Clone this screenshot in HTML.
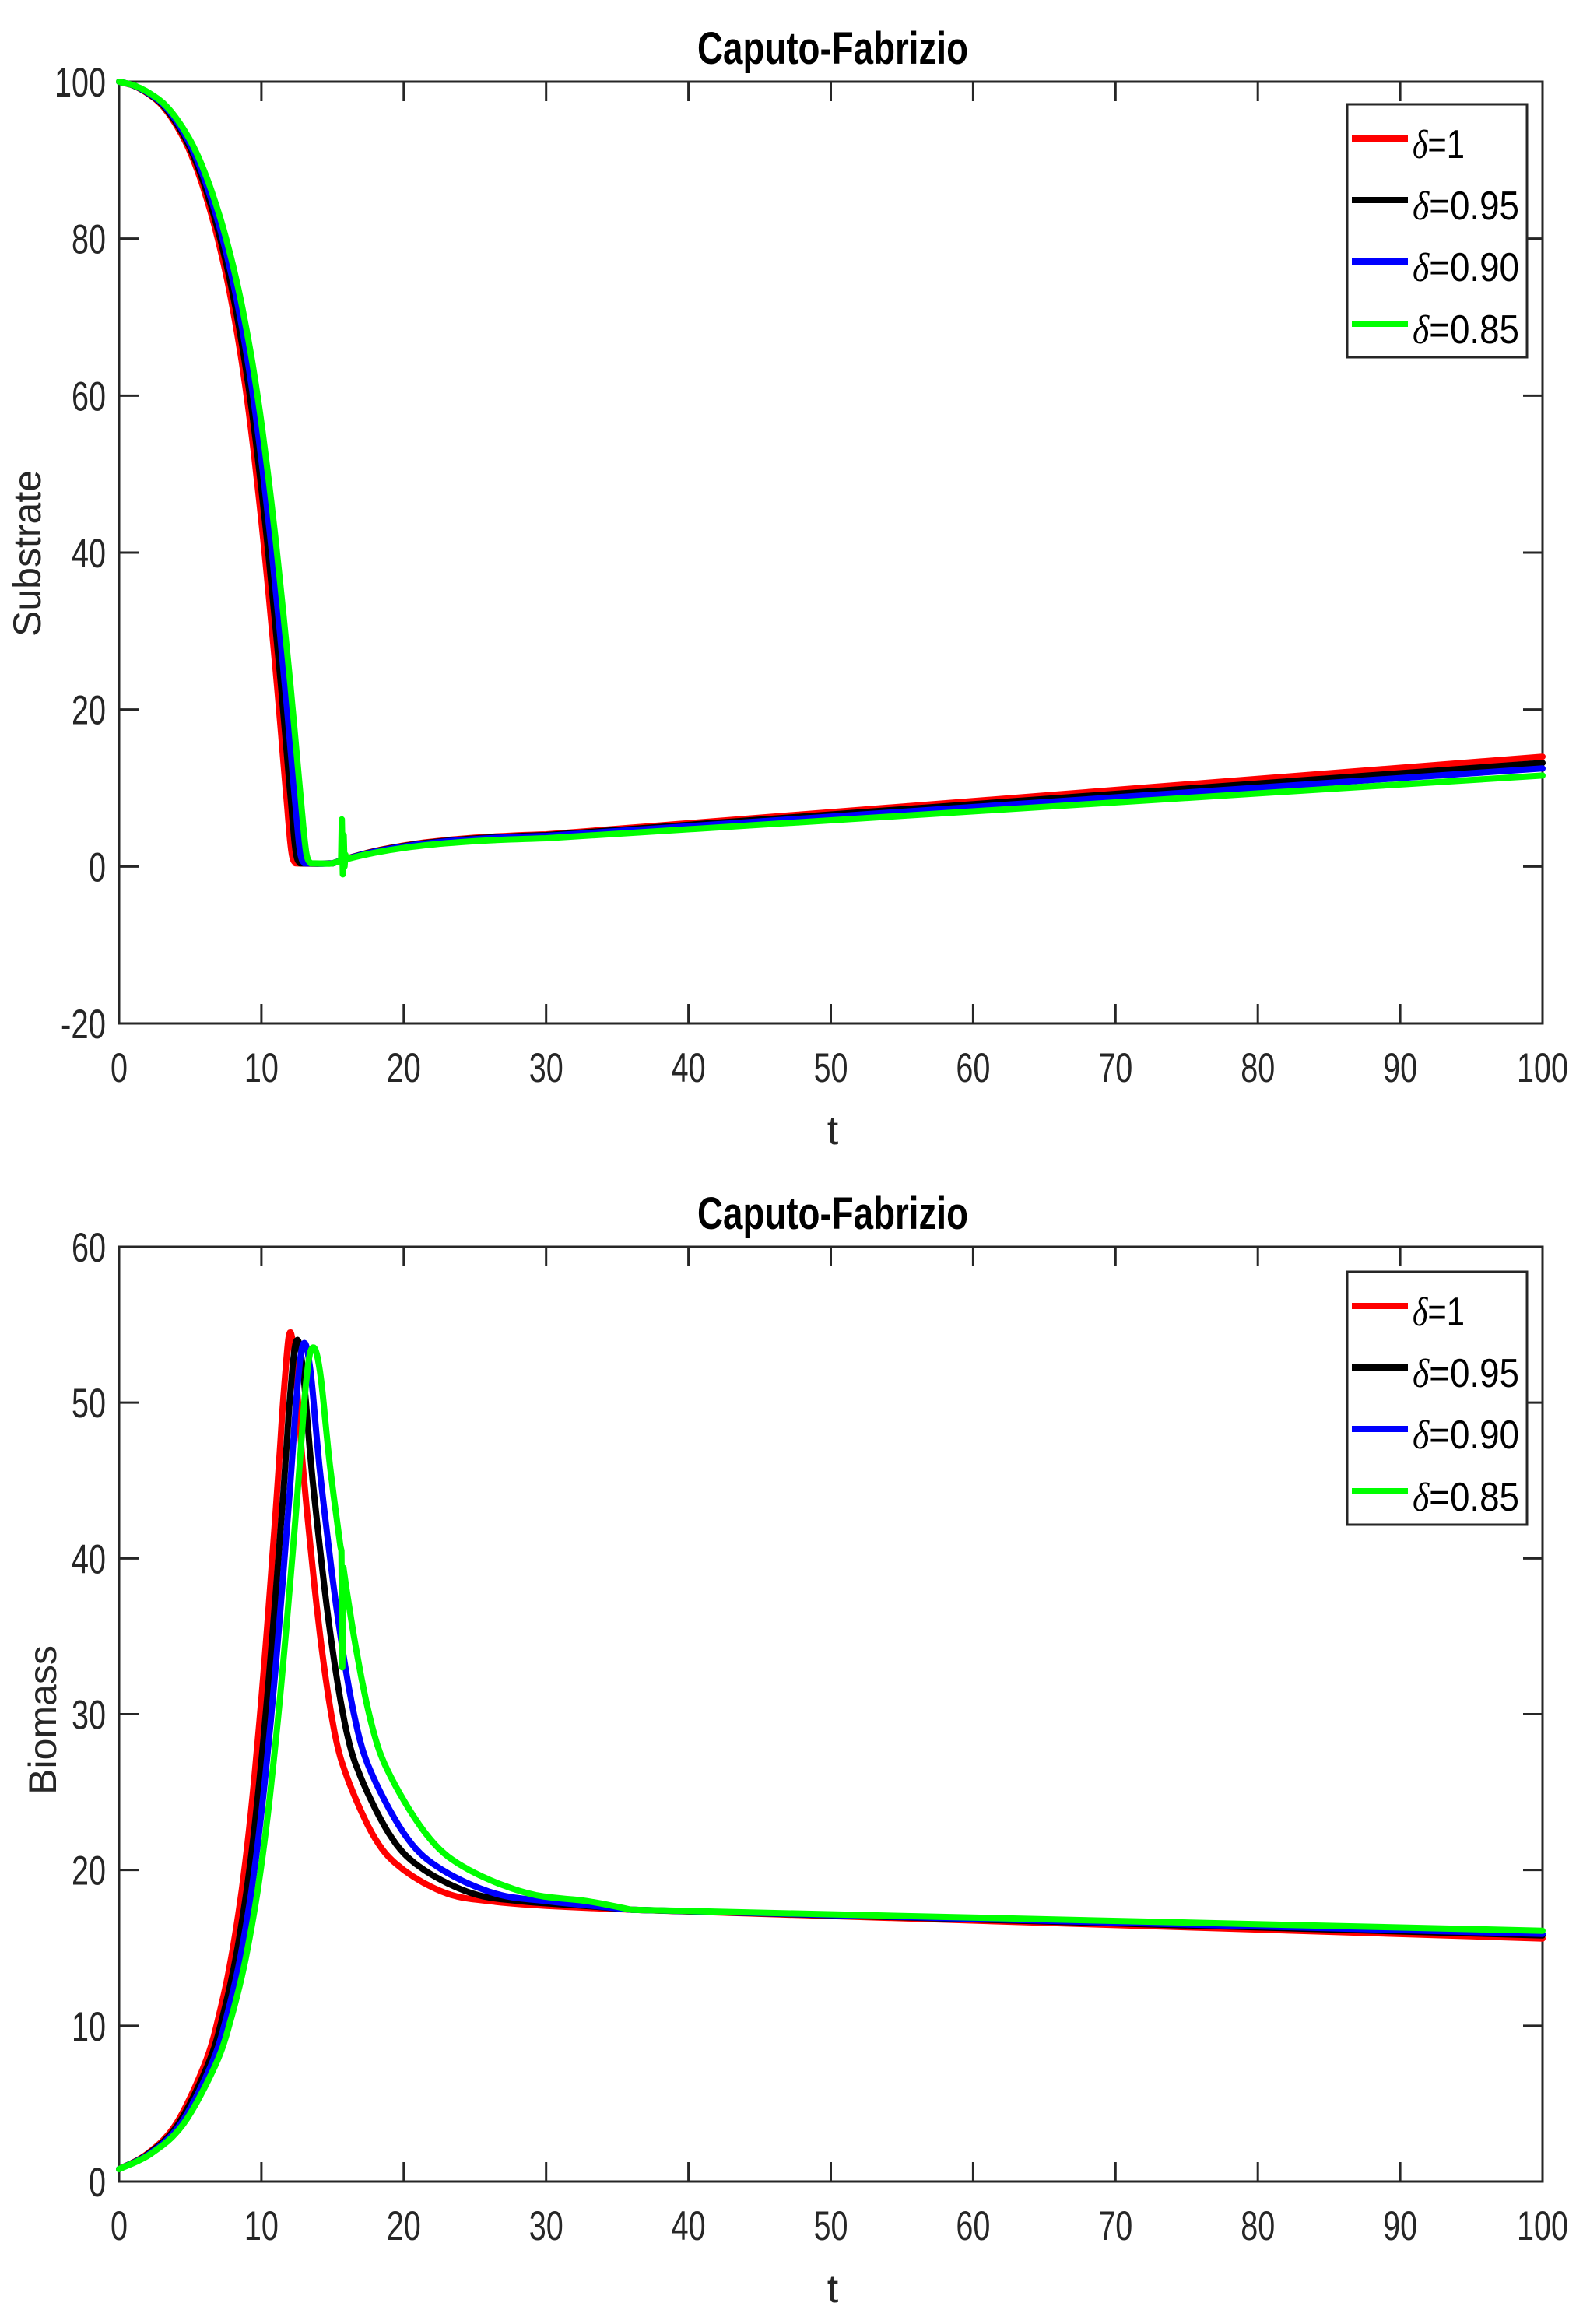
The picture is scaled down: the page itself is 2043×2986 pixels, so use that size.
<!DOCTYPE html>
<html><head><meta charset="utf-8"><style>html,body{margin:0;padding:0;background:#fff}svg{display:block}</style></head>
<body>
<svg id="s" width="2043" height="2986" xmlns="http://www.w3.org/2000/svg" font-family="Liberation Sans, sans-serif"></svg>
<script>
const NS="http://www.w3.org/2000/svg";const S=document.getElementById('s');
function el(t,a,p){const e=document.createElementNS(NS,t);for(const k in a)e.setAttribute(k,a[k]);(p||S).appendChild(e);return e;}
function txt(x,y,s,o){o=o||{};const e=el('text',Object.assign({x:x,y:y,'font-size':o.fs||53,fill:'#262626','text-anchor':o.anchor||'middle'},o.attr||{}));if(o.len){e.setAttribute('textLength',o.len);e.setAttribute('lengthAdjust','spacingAndGlyphs');}e.textContent=s;return e;}
const L=153,R=1982;const X=t=>L+(R-L)*t/100;
function axes(top,bot,ymin,ymax,step,title,ylab,ylx,yll){
  el('rect',{x:L,y:top,width:R-L,height:bot-top,fill:'none',stroke:'#262626','stroke-width':3});
  for(let t=10;t<100;t+=10){const x=X(t);el('line',{x1:x,y1:bot,x2:x,y2:bot-25,stroke:'#262626','stroke-width':3});el('line',{x1:x,y1:top,x2:x,y2:top+25,stroke:'#262626','stroke-width':3});}
  for(let t=0;t<=100;t+=10){const s=''+t;txt(X(t),bot+75,s,{len:s.length*22});}
  const Y=v=>bot-(v-ymin)*(bot-top)/(ymax-ymin);
  for(let v=ymin;v<=ymax;v+=step){const y=Y(v);if(v>ymin&&v<ymax){el('line',{x1:L,y1:y,x2:L+25,y2:y,stroke:'#262626','stroke-width':3});el('line',{x1:R,y1:y,x2:R-25,y2:y,stroke:'#262626','stroke-width':3});}
    const s=''+v;const len=s.replace('-','').length*22+(s[0]=='-'?14:0);txt(136,y+19,s,{anchor:'end',len:len});}
  txt(1070,top-23,title,{fs:58,len:348,attr:{'font-weight':'bold',fill:'#000'}});
  txt(1070,bot+155,'t',{fs:52,attr:{fill:'#262626'}});
  const g=el('text',{x:0,y:0,'font-size':50,fill:'#262626','text-anchor':'middle',transform:`translate(${ylx},${yll}) rotate(-90)`});g.textContent=ylab;
  return Y;
}
function lerp(pts,t){for(let i=1;i<pts.length;i++){if(t<=pts[i][0]){const a=pts[i-1],b=pts[i];const f=(t-a[0])/(b[0]-a[0]||1);return a[1]+(b[1]-a[1])*f;}}return pts[pts.length-1][1];}
function draw(pts,Y,col){let d='';pts.sort((a,b)=>a[0]-b[0]);pts.forEach((p,i)=>{d+=(i?'L':'M')+X(p[0]).toFixed(1)+','+Y(p[1]).toFixed(1);});el('path',{d:d,fill:'none',stroke:col,'stroke-width':8,'stroke-linejoin':'round','stroke-linecap':'round'});}
function smooth(pts){
  const out=[];for(let i=0;i<pts.length-1;i++){const p0=pts[Math.max(0,i-1)],p1=pts[i],p2=pts[i+1],p3=pts[Math.min(pts.length-1,i+2)];
    for(let j=0;j<8;j++){const u=j/8,u2=u*u,u3=u2*u;const f=(a,b,c,d)=>0.5*((2*b)+(-a+c)*u+(2*a-5*b+4*c-d)*u2+(-a+3*b-3*c+d)*u3);out.push([f(p0[0],p1[0],p2[0],p3[0]),f(p0[1],p1[1],p2[1],p3[1])]);}}
  out.push(pts[pts.length-1]);return out;}
const cols=['#ff0000','#000000','#0000ff','#00ff00'];
const Y1=axes(105,1315,-20,100,20,'Caputo-Fabrizio','Substrate',52,711);
const drop=[[0,100],[1,99.5],[2,98.5],[3,97],[4,94.5],[5,91],[6,86],[7,79.5],[8,71],[9,59.5],[10,44],[11,25],[11.7,10],[12.1,2],[12.4,0.4]];
const ks=[1,1.025,1.05,1.085],Es=[14,13.2,12.5,11.6],s30=[4.1,4,3.9,3.6];
for(let i=0;i<4;i++){let p=drop.map(q=>[q[0]*ks[i],q[1]]);
  p=smooth(p);p.push([13.6*ks[i],0.35]);
  const tail=[];for(let t=15;t<=30;t+=0.5){const base=0.4+(s30[i]-0.4)*(1-Math.exp(-(t-15)/6))/(1-Math.exp(-15/6));tail.push([t,base]);}
  tail.push([100,Es[i]]);
  if(i==3){tail.push([15.6,0.8],[15.65,6],[15.72,-1],[15.78,4],[15.84,0],[15.9,1.5]);}
  draw(p.concat(tail),Y1,cols[i]);}
function legend(top){el('rect',{x:1731,y:top,width:231,height:325,fill:'#fff',stroke:'#262626','stroke-width':3});
  const offs=[44,123,202,282],labs=['1','0.95','0.90','0.85'];
  for(let i=0;i<4;i++){const y=top+offs[i];el('line',{x1:1737,y1:y,x2:1809,y2:y,stroke:cols[i],'stroke-width':8});
    const t=el('text',{x:1815,y:y+25,'font-size':52,fill:'#000',textLength:labs[i].length==1?67:137,lengthAdjust:'spacingAndGlyphs'});
    const ts=el('tspan',{'font-style':'italic','font-family':'Liberation Serif, serif'},t);ts.textContent='δ';
    const t2=el('tspan',{},t);t2.textContent='='+labs[i];}}
legend(134);
const Y2=axes(1602,2803,0,60,10,'Caputo-Fabrizio','Biomass',72,2210);
const rise=[[0,0.8],[2,1.8],[4,3.7],[6,7.5],[7,10.6],[8,15],[9,21.5],[10,31],[11,43],[11.6,51],[12,54.5]];
const dec=[[0.4,52],[1,45],[2,36],[3,29.5],[4,26],[6,22],[8,20],[11,18.5],[14,18],[18,17.7]];
const kb=[1,1.04,1.08,1.13],pk=[54.5,54,53.8,53.5],ms=[1,1.12,1.22,1.38],Eb=[15.6,15.8,15.9,16.1];
for(let i=0;i<4;i++){const tp=12*kb[i];let p=rise.map(q=>[q[0]*kb[i],q[1]*(q[0]==12?pk[i]/54.5:1)]);
  dec.forEach(q=>{const t=tp+q[0]*ms[i];if(t<33)p.push([t,q[1]]);});
  p.push([36,17.45]);p=smooth(p);
  if(i==3){const gl=[[15.55,lerp(p,15.55)],[15.62,40.5],[15.68,33],[15.76,lerp(p,15.76)]];p=p.filter(q=>q[0]<15.55||q[0]>15.76).concat(gl);}
  p.push([100,Eb[i]]);draw(p,Y2,cols[i]);}
legend(1634);
</script>
</body></html>
